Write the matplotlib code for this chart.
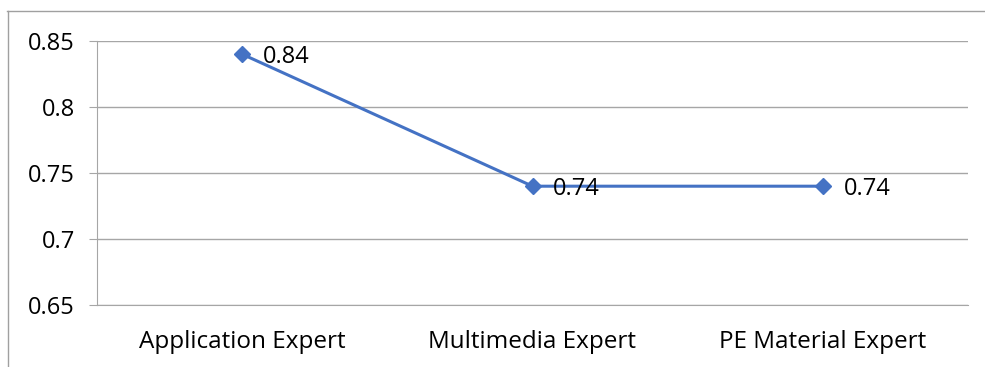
import matplotlib
matplotlib.use('Agg')
from matplotlib import pyplot as plt
from matplotlib.lines import Line2D

categories = ['Application Expert', 'Multimedia Expert', 'PE Material Expert']
values = [0.84, 0.74, 0.74]
yticks = [0.65, 0.7, 0.75, 0.8, 0.85]
ytickLabels = ['0.65', '0.7', '0.75', '0.8', '0.85']

plt.rcParams['font.family'] = ['Open Sans', 'DejaVu Sans']

W, H = 985, 367
fig = plt.figure(figsize=(W / 100, H / 100), dpi=100)
ax = fig.add_axes([97 / W, 1 - 305 / H, (968 - 97) / W, (305 - 41) / H])

x = list(range(len(categories)))
ax.plot(x, values, color='#4472C4', lw=2.2, marker='D', ms=8, zorder=3)
for xi, v in zip(x, values):
    ax.annotate(f'{v:.2f}', (xi, v), xytext=(15, -2), textcoords='offset points',
                ha='left', va='center', fontsize=17, color='black')

ax.set_xlim(-0.5, len(categories) - 0.5)
ax.set_ylim(0.65, 0.85)
ax.set_yticks(yticks)
ax.set_yticklabels(ytickLabels, fontsize=17)
ax.set_xticks(x)
ax.set_xticklabels(categories, fontsize=17.5)
ax.grid(axis='y', color='#a6a6a6', lw=1)
ax.set_axisbelow(True)
for side in ['top', 'right']:
    ax.spines[side].set_visible(False)
ax.spines['left'].set_color('#a6a6a6')
ax.spines['bottom'].set_color('#a6a6a6')
ax.tick_params(axis='y', length=6, color='#a6a6a6', pad=10)
ax.tick_params(axis='x', length=0, pad=18)

# chart frame (only top and left visible in the crop)
fig.add_artist(Line2D([7 / W, 1], [1 - 11 / H] * 2, color='#a0a0a0', lw=1))
fig.add_artist(Line2D([8 / W] * 2, [0, 1 - 11 / H], color='#a0a0a0', lw=1))

fig.savefig('out.png', dpi=100)
